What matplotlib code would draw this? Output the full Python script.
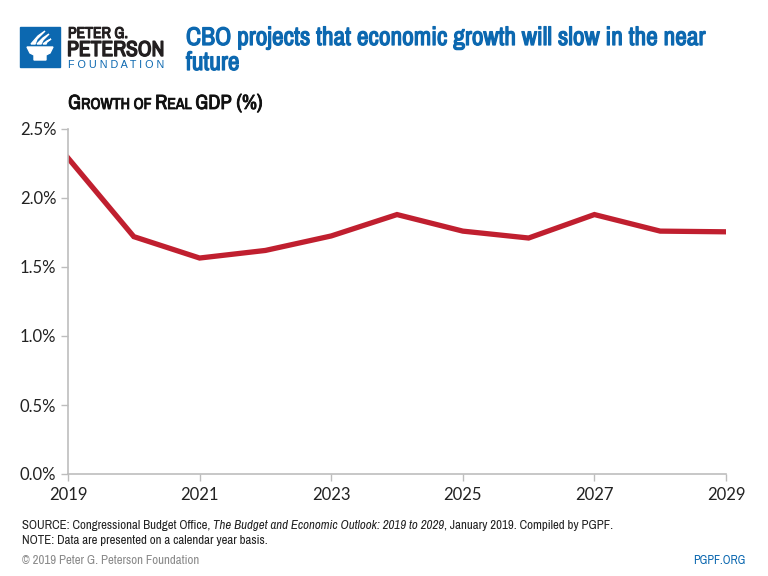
"""
CBO projection of real GDP growth, PGPF style chart.
"""

import matplotlib
matplotlib.use("Agg")
import matplotlib.pyplot as plt
from matplotlib import font_manager
from matplotlib import patheffects as pe
from matplotlib.patches import Rectangle, Polygon

years = [2019, 2020, 2021, 2022, 2023, 2024, 2025, 2026, 2027, 2028, 2029]
growth = [2.29, 1.72, 1.565, 1.62, 1.725, 1.88, 1.76, 1.71, 1.88, 1.76, 1.755]

x_ticks = [2019, 2021, 2023, 2025, 2027, 2029]
y_ticks = [0.0, 0.5, 1.0, 1.5, 2.0, 2.5]

RED = "#c01f2f"
BLUE = "#0c68b0"
GREY_AX = "#bdbdbd"
TXT = "#222222"
W, H = 768, 576

plt.rcParams["font.family"] = ["Lato", "DejaVu Sans"]


def narrow_font():
    # any narrow / condensed face that is installed
    for f in font_manager.fontManager.ttflist:
        if "Narrow" in f.name or "Condensed" in f.name:
            return dict(family=[f.name, "DejaVu Sans"])
    return dict(family=["Roboto", "DejaVu Sans"])


NARROW = narrow_font()


def heavy(color, w=0.9):
    # thicken a face that has no bold cut
    return [pe.withStroke(linewidth=w, foreground=color)]


def fit(fig, texts, target_px):
    # scale font sizes so the run of texts spans target_px
    r = fig.canvas.get_renderer()
    x0 = min(t.get_window_extent(r).x0 for t in texts)
    x1 = max(t.get_window_extent(r).x1 for t in texts)
    k = target_px / (x1 - x0)
    for t in texts:
        t.set_fontsize(t.get_fontsize() * k)


def chain(fig, ax, x, y, parts, **common):
    out = []
    for txt, kw in parts:
        opts = dict(common)
        opts.update(kw)
        if not out:
            out.append(fig.text(x, y, txt, va="baseline", ha="left", **opts))
        else:
            out.append(ax.annotate(txt, xy=(1, y), xycoords=(out[-1], "figure fraction"),
                                   va="baseline", ha="left", annotation_clip=False, **opts))
    return out


def main():
    fig = plt.figure(figsize=(7.68, 5.76), dpi=100)

    ax = fig.add_axes([68 / W, (H - 474) / H, (726 - 68) / W, (474 - 129) / H])
    ax.plot(years, growth, color=RED, linewidth=3.8, solid_joinstyle="miter")
    ax.set_xlim(2019, 2029)
    ax.set_ylim(0, 2.5)
    ax.set_xticks(x_ticks)
    ax.set_xticklabels([str(y) for y in x_ticks])
    ax.set_yticks(y_ticks)
    ax.set_yticklabels([f"{v:.1f}%" for v in y_ticks])
    for s in ["top", "right"]:
        ax.spines[s].set_visible(False)
    for s in ["left", "bottom"]:
        ax.spines[s].set_color(GREY_AX)
        ax.spines[s].set_linewidth(1.2)
    ax.tick_params(colors=GREY_AX, labelcolor=TXT, labelsize=12, length=5, width=1)
    ax.tick_params(axis="x", pad=4)

    # logo
    fig.patches.append(Rectangle((20 / W, 1 - 67 / H), 40 / W, 40 / H,
                                 transform=fig.transFigure, color=BLUE))
    cup = [(27, 47), (53, 47), (50, 53), (46, 55), (46, 60), (34, 60), (34, 55), (30, 53)]
    fig.patches.append(Polygon([(x / W, 1 - y / H) for x, y in cup],
                               closed=True, transform=fig.transFigure, color="white"))
    for pts in [[(31, 44), (38, 36), (45, 31), (37, 39), (35, 44)],
                [(37, 44), (43, 38), (49, 34), (43, 40), (41, 44)],
                [(43, 44), (47, 41), (51, 39), (47, 42), (46, 44)]]:
        fig.patches.append(Polygon([(x / W, 1 - y / H) for x, y in pts],
                                   closed=True, transform=fig.transFigure, color="white"))
    t1 = fig.text(68 / W, 1 - 38 / H, "PETER G.", fontsize=11,
                  color="#231f20", path_effects=heavy("#231f20", 0.8), **NARROW)
    t2 = fig.text(67 / W, 1 - 56 / H, "PETERSON", fontsize=16,
                  color="#231f20", path_effects=heavy("#231f20", 1.0), **NARROW)
    t3 = fig.text(68 / W, 1 - 67.5 / H, "F O U N D A T I O N", fontsize=7,
                  color=BLUE, family=["Liberation Sans", "DejaVu Sans"])

    # title
    ttl = fig.text(186 / W, 1 - 45 / H,
                   "CBO projects that economic growth will slow in the near",
                   fontsize=16, color=BLUE, path_effects=heavy(BLUE), **NARROW)
    ttl2 = fig.text(186 / W, 1 - 70 / H, "future", fontsize=16,
                    color=BLUE, path_effects=heavy(BLUE), **NARROW)

    # small caps subtitle
    sub = chain(fig, ax, 68 / W, 1 - 109 / H,
                [("G", dict(fontsize=13)), ("ROWTH OF ", dict(fontsize=10)),
                 ("R", dict(fontsize=13)), ("EAL ", dict(fontsize=10)),
                 ("GDP (%)", dict(fontsize=13))],
                color="#111111", path_effects=heavy("#111111", 0.6), **NARROW)

    # footer
    src = chain(fig, ax, 22 / W, 1 - 529 / H,
                [("SOURCE: Congressional Budget Office, ", {}),
                 ("The Budget and Economic Outlook: 2019 to 2029", dict(style="italic")),
                 (", January 2019. Compiled by PGPF.", {})],
                fontsize=8.5, color="#222222", **NARROW)
    note = fig.text(22 / W, 1 - 544 / H, "NOTE: Data are presented on a calendar year basis.",
                    fontsize=8.5, color="#222222", **NARROW)
    cop = fig.text(22 / W, 1 - 564 / H, "\u00a9 2019 Peter G. Peterson Foundation",
                   fontsize=8.5, color="#8a8a8a", **NARROW)
    org = fig.text(746 / W, 1 - 564 / H, "PGPF.ORG", fontsize=9, color=BLUE, ha="right",
                   **NARROW)

    fit(fig, [t1], 60)
    fit(fig, [t2], 97)
    fit(fig, [t3], 97)
    fit(fig, [ttl], 521)
    ttl2.set_fontsize(ttl.get_fontsize())
    fit(fig, sub, 194)
    fit(fig, src, 598)
    for t in (note, cop):
        t.set_fontsize(src[0].get_fontsize())
    fit(fig, [org], 52)

    fig.savefig("out.png", dpi=100, facecolor="white")
    plt.close(fig)


if __name__ == "__main__":
    main()
